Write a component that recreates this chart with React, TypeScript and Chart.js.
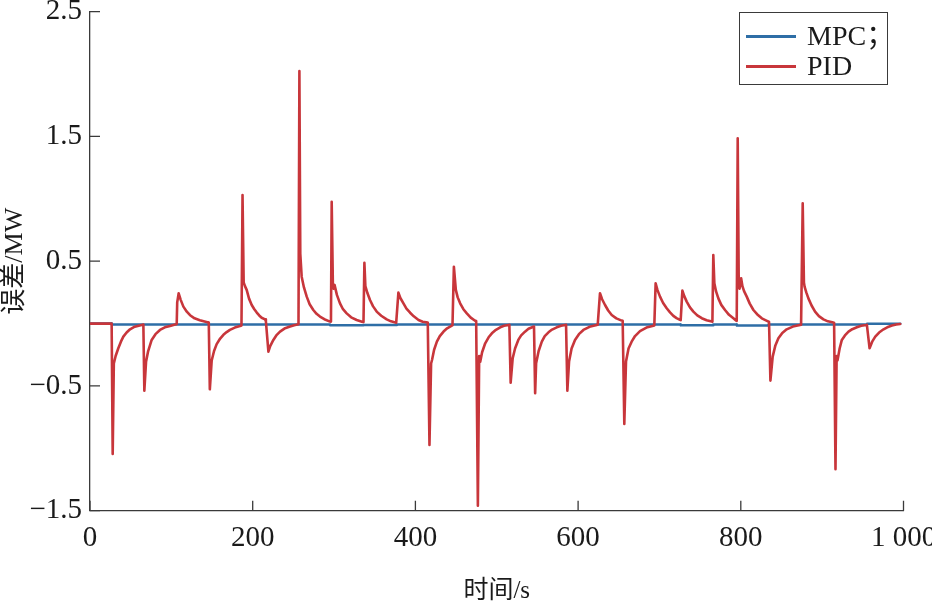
import React, { useEffect, useRef } from "react";
import { Chart, registerables } from "chart.js";

Chart.register(...registerables);

// ---- data ----
const xTickValues = [0, 200, 400, 600, 800, 1000];
const xTickLabels = ["0", "200", "400", "600", "800", "1 000"];
const yTickValues = [-1.5, -0.5, 0.5, 1.5, 2.5];
const yTickLabels = ["−1.5", "−0.5", "0.5", "1.5", "2.5"];
const seriesNames = ["MPC；", "PID"];
const xTitle = "时间/s";
const yTitle = "误差/MW";

const pidTime = [
  0, 26.6,
  27.9, 29.3, 31.5, 34.8, 38, 41, 45, 49.2, 55, 63.5, 65.6,
  66.8, 68.9, 71.5, 75.8, 80.5, 86, 92, 98.4, 105.7,
  106.6, 107.2, 109, 111.5, 114.8, 119, 123, 128.5, 135, 145.5, 146.0,
  147.3, 149.6, 152.5, 155.7, 160, 164, 168, 172, 178, 184.4, 186.2,
  187.5, 188.9, 190.5, 192.6, 195.5, 198.8, 202, 205, 208, 211, 215.2, 216.2,
  219.3, 221.5, 225.4, 229, 233.6, 239, 245.9, 251, 256.3,
  257.4, 258.5, 260.2, 263, 266.4, 270, 274.5, 278.5, 282.7, 288, 295, 296.2,
  297.1, 298.6, 299.4, 300.6, 303.5, 307.3, 311, 315.5, 321, 327.8, 335.2, 336.2,
  337.3, 338.5, 341, 344.2, 348, 352.4, 358, 364.7, 370, 376.4,
  379.1, 381.5, 385.3, 389, 393.5, 398, 403.8, 409, 415.2,
  417.3, 419.3, 420.5, 423, 426.4, 430, 434.6, 439, 444.8, 445.6,
  447.3, 449.7, 452, 455, 459, 463.2, 468, 473.4, 474.7,
  476.8, 478.4, 479.7, 482, 485.8, 490, 494, 499, 504.3, 509, 514.5, 515.5,
  517.1, 519.6, 522.5, 526.5, 530, 534.7, 539, 545, 545.8,
  547.2, 548.4, 551.5, 555.4, 559, 563.6, 568, 573.8, 579, 584.1, 585.2,
  586.8, 588.9, 592, 596.2, 601, 606.5, 614, 622.9, 624.1,
  626.9, 629.5, 633.1, 637, 641.3, 647, 653.6, 654.8,
  656.8, 658.9, 662, 665.8, 670, 676.1, 684, 692.5, 693.7,
  695.3, 697.5, 700.7, 704.5, 708.9, 713, 717.1, 721, 725.3, 726.1,
  728.2, 730.5, 733.5, 737.5, 741.7, 746.5, 752, 758, 764.3, 765.1,
  766.2, 767.5, 769.5, 772.4, 776, 780.6, 785.5, 790.9, 794.1, 795,
  796.2, 797.5, 798.5, 800.4, 802, 804, 807.3, 811, 815.5, 820, 825.8, 834, 834.7,
  836.4, 839.2, 842.5, 846.2, 851, 856.4, 864, 872.8, 874.1,
  876.1, 877.6, 878.4, 880.5, 883.1, 887, 891.3, 896, 901.6, 907, 913.9, 914.7,
  916.4, 917.8, 918.9, 921.5, 924.2, 928, 932.4, 937, 942.7, 948, 954.2, 955,
  958.3, 961.5, 965.3, 970, 975.5, 980, 985.8, 991, 996,
];

const pidError = [
  0, 0,
  -1.045, -0.32, -0.26, -0.198, -0.145, -0.105, -0.072, -0.046, -0.025, -0.011, -0.008,
  -0.538, -0.305, -0.22, -0.131, -0.085, -0.051, -0.03, -0.019, -0.006,
  -0.004, 0.17, 0.243, 0.19, 0.136, 0.095, 0.067, 0.042, 0.027, 0.008, 0.006,
  -0.527, -0.296, -0.22, -0.165, -0.12, -0.09, -0.068, -0.05, -0.032, -0.02, -0.016,
  1.031, 0.33, 0.3, 0.27, 0.2, 0.149, 0.115, 0.088, 0.065, 0.047, 0.034, 0.02,
  -0.225, -0.18, -0.131, -0.095, -0.064, -0.04, -0.024, -0.013, -0.006,
  2.025, 0.56, 0.376, 0.29, 0.216, 0.155, 0.109, 0.078, 0.056, 0.035, 0.016, 0.015,
  0.977, 0.296, 0.28, 0.31, 0.23, 0.162, 0.115, 0.082, 0.05, 0.029, 0.013, 0.012,
  0.488, 0.3, 0.245, 0.189, 0.138, 0.096, 0.063, 0.034, 0.018, 0.007,
  0.248, 0.205, 0.162, 0.12, 0.087, 0.058, 0.029, 0.015, 0.008,
  -0.973, -0.32, -0.29, -0.21, -0.145, -0.1, -0.064, -0.038, -0.016, -0.014,
  0.456, 0.27, 0.21, 0.162, 0.115, 0.082, 0.048, 0.023, 0.02,
  -1.46, -0.26, -0.305, -0.23, -0.158, -0.11, -0.078, -0.05, -0.03, -0.018, -0.011, -0.01,
  -0.474, -0.278, -0.2, -0.131, -0.095, -0.065, -0.042, -0.025, -0.024,
  -0.559, -0.318, -0.22, -0.145, -0.1, -0.07, -0.048, -0.03, -0.018, -0.011, -0.01,
  -0.538, -0.304, -0.2, -0.131, -0.085, -0.051, -0.026, -0.011, -0.01,
  0.243, 0.195, 0.149, 0.105, 0.069, 0.042, 0.024, 0.022,
  -0.805, -0.304, -0.2, -0.145, -0.1, -0.06, -0.032, -0.017, -0.015,
  0.323, 0.27, 0.216, 0.165, 0.123, 0.09, 0.062, 0.044, 0.03, 0.028,
  0.264, 0.22, 0.176, 0.13, 0.096, 0.066, 0.043, 0.027, 0.016, 0.015,
  0.55, 0.323, 0.26, 0.202, 0.15, 0.109, 0.07, 0.042, 0.024, 0.022,
  1.485, 0.3, 0.28, 0.363, 0.3, 0.26, 0.216, 0.16, 0.109, 0.075, 0.042, 0.016, 0.015,
  -0.457, -0.265, -0.175, -0.118, -0.075, -0.046, -0.024, -0.011, -0.01,
  0.964, 0.33, 0.296, 0.25, 0.202, 0.145, 0.096, 0.06, 0.034, 0.018, 0.008, 0.007,
  -1.168, -0.26, -0.295, -0.2, -0.131, -0.095, -0.065, -0.045, -0.03, -0.018, -0.011, -0.01,
  -0.198, -0.145, -0.105, -0.072, -0.046, -0.03, -0.016, -0.008, -0.003,
];

const mpcTime = [
  0, 26.6, 26.8, 295, 295.2, 336, 336.2, 377, 377.2, 726, 726.2, 766, 766.2,
  795, 795.2, 834, 834.2, 955, 955.2, 996,
];
const mpcError = [
  0, 0, -0.008, -0.008, -0.014, -0.014, -0.011, -0.011, -0.008, -0.008, -0.014,
  -0.014, -0.008, -0.008, -0.016, -0.016, -0.008, -0.008, -0.002, -0.002,
];

// ---- styles ----
const BLUE = "#2e6ea6";
const RED = "#c8363b";
const AXIS = "#3a3a3a";
const TEXT = "#1a1a1a";
const FONT = "'Liberation Serif', 'Noto Sans CJK SC', serif";

const inwardTicks = {
  id: "inwardTicks",
  afterDatasetsDraw(chart: any) {
    const { ctx, chartArea, scales } = chart;
    const xs = scales.x;
    const ys = scales.y;
    ctx.save();
    ctx.strokeStyle = AXIS;
    ctx.lineWidth = 1.3;
    ctx.beginPath();
    xTickValues.forEach((v) => {
      const px = xs.getPixelForValue(v);
      ctx.moveTo(px, chartArea.bottom);
      ctx.lineTo(px, chartArea.bottom - 10);
    });
    yTickValues.forEach((v) => {
      const py = ys.getPixelForValue(v);
      ctx.moveTo(chartArea.left, py);
      ctx.lineTo(chartArea.left + 10, py);
    });
    ctx.stroke();
    ctx.restore();
  },
};

export default function App() {
  const canvasRef = useRef<HTMLCanvasElement | null>(null);

  useEffect(() => {
    const canvas = canvasRef.current;
    if (!canvas) return;
    const chart = new Chart(canvas, {
      type: "line",
      data: {
        datasets: [
          {
            label: seriesNames[0],
            data: mpcTime.map((t, i) => ({ x: t, y: mpcError[i] })),
            borderColor: BLUE,
            backgroundColor: BLUE,
            borderWidth: 2.6,
            borderJoinStyle: "round",
            borderCapStyle: "round",
            pointRadius: 0,
            tension: 0,
            order: 1,
          },
          {
            label: seriesNames[1],
            data: pidTime.map((t, i) => ({ x: t, y: pidError[i] })),
            borderColor: RED,
            backgroundColor: RED,
            borderWidth: 2.6,
            borderJoinStyle: "round",
            borderCapStyle: "round",
            pointRadius: 0,
            tension: 0,
            order: 0,
          },
        ],
      },
      options: {
        responsive: false,
        animation: false,
        events: [],
        layout: { padding: { top: 11.7, right: 28.5, left: 0, bottom: 0 } },
        plugins: {
          legend: { display: false },
          tooltip: { enabled: false },
        },
        scales: {
          x: {
            type: "linear",
            min: 0,
            max: 1000,
            afterBuildTicks: (scale: any) => {
              scale.ticks = xTickValues.map((v) => ({ value: v }));
            },
            ticks: {
              autoSkip: false,
              maxRotation: 0,
              padding: 10,
              color: TEXT,
              font: { family: FONT, size: 29 },
              callback: (v: any) => {
                const i = xTickValues.indexOf(Number(v));
                return i >= 0 ? xTickLabels[i] : "";
              },
            },
            grid: { display: false, drawTicks: false },
            border: { display: true, color: AXIS, width: 1.3 },
            title: {
              display: true,
              text: xTitle,
              color: TEXT,
              font: { family: FONT, size: 25 },
              padding: { top: 0, bottom: 9 },
            },
            afterFit: (scale: any) => {
              scale.height = 104.3;
              scale.paddingLeft = 0;
              scale.paddingRight = 0;
            },
          },
          y: {
            type: "linear",
            min: -1.5,
            max: 2.5,
            afterBuildTicks: (scale: any) => {
              scale.ticks = yTickValues.map((v) => ({ value: v }));
            },
            ticks: {
              padding: 8,
              color: TEXT,
              font: { family: FONT, size: 29 },
              callback: (v: any) => {
                const i = yTickValues.indexOf(Number(v));
                return i >= 0 ? yTickLabels[i] : "";
              },
            },
            grid: { display: false, drawTicks: false },
            border: { display: true, color: AXIS, width: 1.3 },
            title: {
              display: true,
              text: yTitle,
              color: TEXT,
              font: { family: FONT, size: 26 },
              padding: { top: 0, bottom: 0 },
            },
            afterFit: (scale: any) => {
              scale.width = 90;
              scale.paddingTop = 0;
              scale.paddingBottom = 0;
            },
          },
        },
      },
      plugins: [inwardTicks],
    } as any);
    return () => chart.destroy();
  }, []);

  const row = (color: string, label: string, top: number) => (
    <div
      style={{
        position: "absolute",
        left: 0,
        top,
        width: "100%",
        height: 30,
      }}
    >
      <div
        style={{
          position: "absolute",
          left: 6,
          top: 13.5,
          width: 50,
          height: 3,
          background: color,
        }}
      />
      <div
        style={{
          position: "absolute",
          left: 67,
          top: 0,
          height: 30,
          lineHeight: "30px",
          fontFamily: FONT,
          fontSize: 28,
          color: TEXT,
          whiteSpace: "nowrap",
        }}
      >
        {label}
      </div>
    </div>
  );

  return (
    <div
      style={{
        position: "absolute",
        left: 0,
        top: 0,
        width: 932,
        height: 615,
        background: "#fff",
      }}
    >
      <canvas
        ref={canvasRef}
        width={932}
        height={615}
        style={{ width: 932, height: 615, display: "block" }}
      />
      <div
        style={{
          position: "absolute",
          left: 739,
          top: 12,
          width: 149,
          height: 73,
          boxSizing: "border-box",
          border: `1.3px solid ${AXIS}`,
          background: "#fff",
        }}
      >
        {row(BLUE, seriesNames[0], 8)}
        {row(RED, seriesNames[1], 38)}
      </div>
    </div>
  );
}
